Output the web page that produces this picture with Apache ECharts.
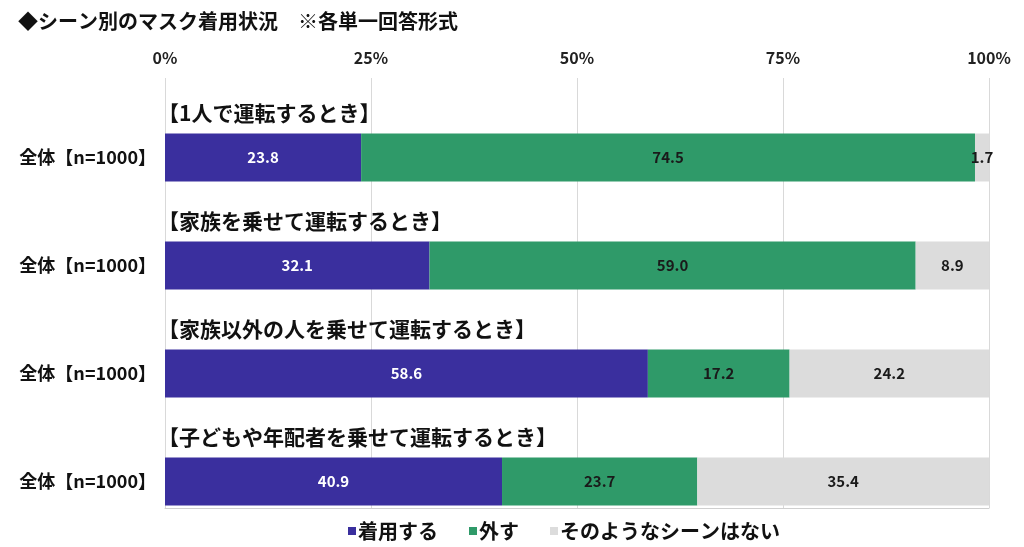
<!DOCTYPE html>
<html><head><meta charset="utf-8">
<script src="https://cdn.jsdelivr.net/npm/echarts@6/dist/echarts.min.js"></script>
<style>html,body{margin:0;padding:0;background:#fff}#c{width:1024px;height:547px}</style>
</head><body><div id="c"></div>
<script>
const titleText = '◆シーン別のマスク着用状況　※各単一回答形式';
const groupLabel = '全体【n=1000】';
const scenes = ['【1人で運転するとき】', '【家族を乗せて運転するとき】', '【家族以外の人を乗せて運転するとき】', '【子どもや年配者を乗せて運転するとき】'];
const seriesNames = ['着用する', '外す', 'そのようなシーンはない'];
const wear = [23.8, 32.1, 58.6, 40.9];
const remove = [74.5, 59.0, 17.2, 23.7];
const none = [1.7, 8.9, 24.2, 35.4];
const tickValues = [0, 25, 50, 75, 100];

const FONT = '"Noto Sans CJK JP", "Noto Sans", sans-serif';
const colors = ['#3a2f9e', '#2f9a69', '#dcdcdc'];
const labelColors = ['#ffffff', '#1a1a1a', '#1a1a1a'];

const chart = echarts.init(document.getElementById('c'));
function mk(name, data, i) {
  return {
    name: name, type: 'bar', stack: 'total', data: data,
    xAxisIndex: 0, yAxisIndex: 0, barWidth: 48,
    itemStyle: { color: colors[i] },
    label: { show: true, position: 'inside', color: labelColors[i], fontFamily: FONT, fontSize: 15, fontWeight: 'bold',
      formatter: p => Number(p.value).toFixed(1) },
    emphasis: { disabled: true }
  };
}
const option = {
  animation: false,
  backgroundColor: '#ffffff',
  textStyle: { fontFamily: FONT },
  title: { text: titleText, left: 13, top: 6, textStyle: { fontFamily: FONT, fontSize: 20, fontWeight: 'bold', color: '#111' } },
  legend: {
    data: seriesNames, top: 516, left: 343, icon: 'rect', itemWidth: 8, itemHeight: 8, itemGap: 31,
    textStyle: { fontFamily: FONT, fontSize: 20, fontWeight: 'bold', color: '#111', padding: [0, 0, 0, -3] }
  },
  grid: [
    { left: 165, right: 35, top: 103.5, bottom: 11.5 },
    { left: 165, right: 35, top: 78, bottom: 39 }
  ],
  xAxis: [
    { gridIndex: 0, type: 'value', min: 0, max: 100, show: false },
    { gridIndex: 1, type: 'value', position: 'top', min: 0, max: 100, interval: 25,
      axisLine: { show: true, lineStyle: { color: '#cfcfcf' } }, axisTick: { show: false },
      axisLabel: { formatter: '{value}%', fontFamily: FONT, fontSize: 16, fontWeight: 'bold', color: '#222', margin: 12 },
      splitLine: { show: true, lineStyle: { color: '#d9d9d9' } } }
  ],
  yAxis: [
    { gridIndex: 0, type: 'category', data: scenes, inverse: true,
      axisLine: { show: false }, axisTick: { show: false },
      axisLabel: { formatter: () => groupLabel, fontFamily: FONT, fontSize: 18, fontWeight: 'bold', color: '#111', margin: 9 } },
    { gridIndex: 1, type: 'value', min: 0, max: 1, show: false }
  ],
  series: [mk(seriesNames[0], wear, 0), mk(seriesNames[1], remove, 1), mk(seriesNames[2], none, 2)]
};
chart.setOption(option);
const g = scenes.map((s, i) => {
  const p = chart.convertToPixel({ xAxisIndex: 0, yAxisIndex: 0 }, [0, i]);
  return { type: 'text', x: p[0] - 7, y: p[1] - 44, style: { text: s, font: 'bold 21px ' + FONT, fill: '#111', verticalAlign: 'middle', align: 'left' } };
});
chart.setOption({ graphic: g });
</script></body></html>
